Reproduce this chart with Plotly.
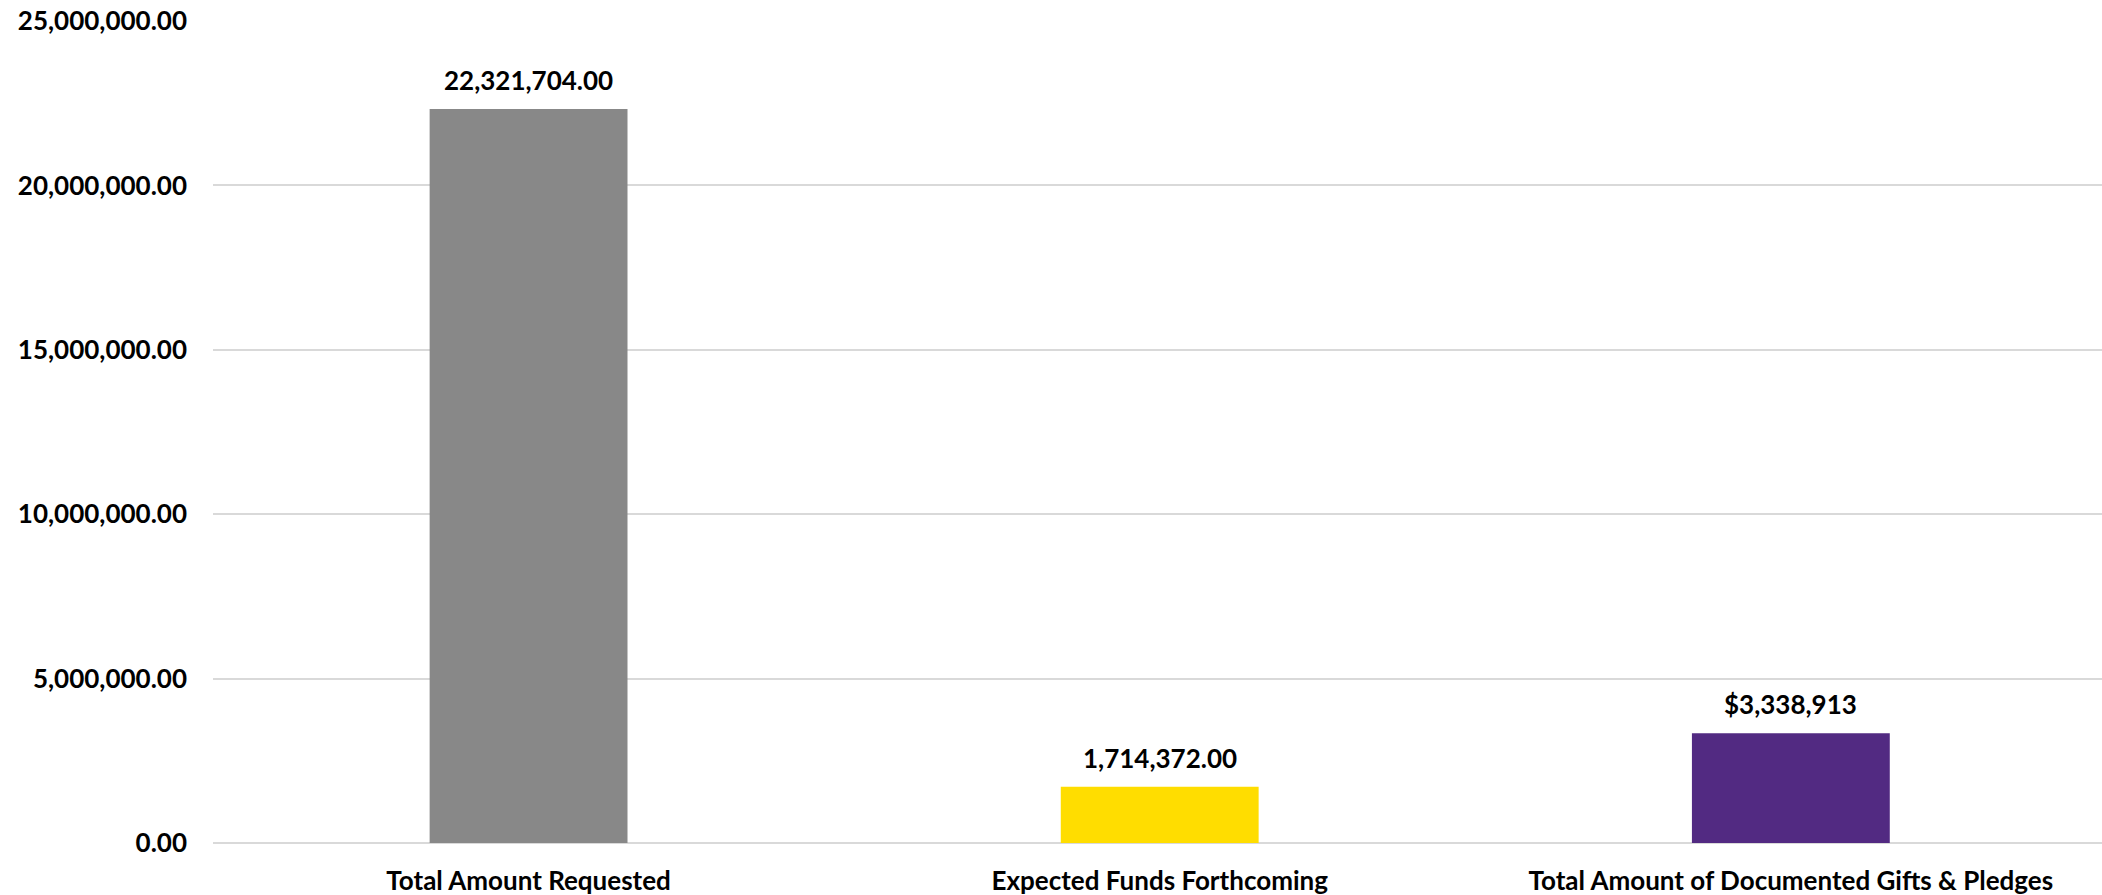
import plotly.graph_objects as go

categories = ["Total Amount Requested", "Expected Funds Forthcoming", "Total Amount of Documented Gifts & Pledges"]
values = [22321704.00, 1714372.00, 3338913]
value_labels = ["22,321,704.00", "1,714,372.00", "$3,338,913"]
bar_colors = ["#888888", "#FFDD00", "#522A82"]
y_ticks = [0, 5000000, 10000000, 15000000, 20000000, 25000000]

FONT = "Lato"

fig = go.Figure()
fig.add_trace(go.Bar(
    x=categories,
    y=values,
    marker=dict(color=bar_colors, line=dict(width=0)),
    width=0.3135,
    showlegend=False,
    hoverinfo="x+y",
))

for c, v, t in zip(categories, values, value_labels):
    fig.add_annotation(
        x=c, y=v, text=t, showarrow=False,
        xanchor="center", yanchor="bottom", yshift=11,
        font=dict(family=FONT, size=26, color="#000000", weight="bold"),
    )

fig.update_layout(
    width=2102, height=895,
    margin=dict(l=213, r=0, t=21, b=52, pad=0),
    paper_bgcolor="white", plot_bgcolor="white",
    font=dict(family=FONT, color="#000000"),
    xaxis=dict(
        type="category",
        range=[-0.5, 2.493],
        showgrid=False, showline=False, zeroline=False,
        ticks="",
        tickfont=dict(family=FONT, size=26, color="#000000", weight="bold"),
        ticklabelstandoff=20,
    ),
    yaxis=dict(
        range=[0, 25000000],
        tickvals=y_ticks,
        tickformat=",.2f",
        showgrid=True, gridcolor="#D9D9D9", gridwidth=2,
        zeroline=True, zerolinecolor="#D9D9D9", zerolinewidth=2,
        showline=False, ticks="",
        tickfont=dict(family=FONT, size=26, color="#000000", weight="bold"),
        ticklabelstandoff=25,
    ),
)

fig.write_html(
    "out.html",
    config={"displayModeBar": False},
    post_script="document.body.style.margin='0';document.body.style.overflow='hidden';",
)
